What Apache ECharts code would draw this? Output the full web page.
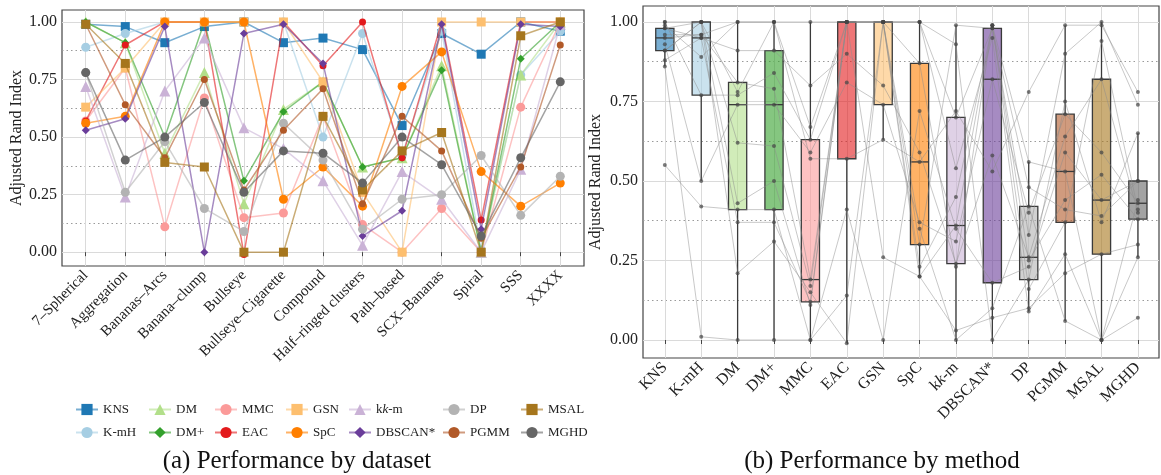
<!DOCTYPE html>
<html>
<head>
<meta charset="utf-8">
<script src="https://cdn.jsdelivr.net/npm/echarts@6/dist/echarts.min.js"></script>
<style>
  html, body { margin: 0; padding: 0; background: #fff; }
  #chart { width: 1161px; height: 475px; }
</style>
</head>
<body>
<div id="chart"></div>
<script>
// datasets on the left x axis
var datasets = ['7–Spherical', 'Aggregation', 'Bananas–Arcs', 'Banana–clump', 'Bullseye',
  'Bullseye–Cigarette', 'Compound', 'Half–ringed clusters', 'Path–based', 'SCX–Bananas',
  'Spiral', 'SSS', 'XXXX'];

// adjusted rand index per method, one value per dataset (same order as above)
var KNS    = [0.99, 0.98, 0.91, 0.98, 1.00, 0.91, 0.93, 0.88, 0.55, 0.95, 0.86, 1.00, 0.96];
var KmH    = [0.89, 0.95, 1.00, 1.00, 1.00, 1.00, 0.50, 0.95, 0.42, 0.96, 0.01, 0.77, 0.96];
var DM     = [1.00, 0.91, 0.43, 0.78, 0.21, 0.62, 0.74, 0.37, 0.41, 0.81, 0.00, 0.77, 1.00];
var DMp    = [1.00, 0.91, 0.50, 1.00, 0.31, 0.61, 0.74, 0.37, 0.41, 0.79, 0.00, 0.84, 1.00];
var MMC    = [0.57, 0.80, 0.11, 0.67, 0.15, 0.17, 0.59, 0.12, 0.00, 0.19, 0.00, 0.63, 1.00];
var EAC    = [0.57, 0.90, 1.00, 1.00, -0.01, 1.00, 0.81, 1.00, 0.41, 1.00, 0.14, 1.00, 1.00];
var GSN    = [0.63, 0.80, 1.00, 1.00, 1.00, 1.00, 0.74, 0.26, 0.00, 1.00, 1.00, 1.00, 1.00];
var SpC    = [0.56, 0.59, 1.00, 1.00, 1.00, 0.23, 0.37, 0.20, 0.72, 0.87, 0.35, 0.20, 0.30];
var KKM    = [0.72, 0.24, 0.70, 0.93, 0.54, 0.45, 0.31, 0.03, 0.35, 0.23, 0.00, 0.36, 0.99];
var DBSCAN = [0.53, 0.58, 0.98, 0.00, 0.95, 0.99, 0.82, 0.07, 0.18, 0.99, 0.10, 0.99, 0.98];
var DP     = [0.78, 0.26, 0.48, 0.19, 0.09, 0.56, 0.40, 0.10, 0.23, 0.25, 0.42, 0.16, 0.33];
var PGMM   = [0.99, 0.64, 0.41, 0.75, 0.27, 0.53, 0.71, 0.21, 0.59, 0.44, 0.06, 0.37, 0.90];
var MSAL   = [0.99, 0.82, 0.39, 0.37, 0.00, 0.00, 0.59, 0.27, 0.44, 0.52, 0.00, 0.94, 1.00];
var MGHD   = [0.78, 0.40, 0.50, 0.65, 0.26, 0.44, 0.43, 0.30, 0.50, 0.38, 0.07, 0.41, 0.74];

var methodNames = ['KNS', 'K-mH', 'DM', 'DM+', 'MMC', 'EAC', 'GSN', 'SpC', 'kk-m', 'DBSCAN*', 'DP', 'PGMM', 'MSAL', 'MGHD'];
var methodValues = [KNS, KmH, DM, DMp, MMC, EAC, GSN, SpC, KKM, DBSCAN, DP, PGMM, MSAL, MGHD];
var methodColors = ['#1f78b4', '#a6cee3', '#b2df8a', '#33a02c', '#fb9a99', '#e31a1c', '#fdbf6f',
  '#ff7f00', '#cab2d6', '#6a3d9a', '#b3b3b3', '#b15928', '#a6761d', '#666666'];
var methodSymbols = ['rect', 'circle', 'triangle', 'diamond', 'circle', 'circle', 'rect',
  'circle', 'triangle', 'diamond', 'circle', 'circle', 'rect', 'circle'];
var symbolSizes = [9, 9, 11, 8, 9, 7, 9, 9, 11, 8, 9, 7, 9, 9];

var majorTicks = [0, 0.25, 0.5, 0.75, 1];
var minorTicks = [0.125, 0.375, 0.625, 0.875];

var FONT = 'Liberation Serif';

function rgba(hex, a) {
  var n = parseInt(hex.slice(1), 16);
  return 'rgba(' + (n >> 16) + ',' + ((n >> 8) & 255) + ',' + (n & 255) + ',' + a + ')';
}

// numpy-style linear quantile
function quantile(sorted, p) {
  var pos = (sorted.length - 1) * p;
  var lo = Math.floor(pos), hi = Math.ceil(pos);
  return sorted[lo] + (sorted[hi] - sorted[lo]) * (pos - lo);
}

function boxStats(vals) {
  var s = vals.slice().sort(function (a, b) { return a - b; });
  var q1 = quantile(s, 0.25), med = quantile(s, 0.5), q3 = quantile(s, 0.75);
  var iqr = q3 - q1;
  var lo = s.filter(function (v) { return v >= q1 - 1.5 * iqr; })[0];
  var inside = s.filter(function (v) { return v <= q3 + 1.5 * iqr; });
  var hi = inside[inside.length - 1];
  return [lo, q1, med, q3, hi];
}

function methodLabel(name) {
  return name === 'kk-m' ? 'k{i|k}-m' : name;
}

var datasetIdx = datasets.map(function (d, i) { return i; });
var methodIdx = methodNames.map(function (d, i) { return i; });

var myChart = echarts.init(document.getElementById('chart'), null, { renderer: 'canvas' });

var series = [];

// (a) one line per method across datasets
methodNames.forEach(function (name, m) {
  series.push({
    name: name,
    type: 'line',
    xAxisIndex: 0,
    yAxisIndex: 0,
    data: methodValues[m].map(function (v, i) { return [i, v]; }),
    symbol: methodSymbols[m],
    symbolSize: symbolSizes[m],
    showSymbol: true,
    itemStyle: { color: methodColors[m], opacity: 1 },
    lineStyle: { color: methodColors[m], width: 1.5, opacity: 0.6 },
    z: 2 + m
  });
});

// (b) boxes
series.push({
  type: 'custom',
  xAxisIndex: 1,
  yAxisIndex: 2,
  silent: true,
  z: 2,
  data: methodValues.map(function (vals, m) { return [m].concat(boxStats(vals)); }),
  renderItem: function (params, api) {
    var j = api.value(0);
    var lo = api.coord([j, api.value(1)]);
    var q1 = api.coord([j, api.value(2)]);
    var md = api.coord([j, api.value(3)]);
    var q3 = api.coord([j, api.value(4)]);
    var hi = api.coord([j, api.value(5)]);
    var half = api.size([1, 0])[0] * 0.25;
    var stroke = { stroke: '#3a3a3a', lineWidth: 1.3 };
    return {
      type: 'group',
      children: [
        { type: 'line', shape: { x1: lo[0], y1: lo[1], x2: q1[0], y2: q1[1] }, style: stroke },
        { type: 'line', shape: { x1: q3[0], y1: q3[1], x2: hi[0], y2: hi[1] }, style: stroke },
        { type: 'rect', shape: { x: q1[0] - half, y: q3[1], width: half * 2, height: q1[1] - q3[1] },
          style: { fill: rgba(methodColors[j], 0.6), stroke: '#3a3a3a', lineWidth: 1.3 } },
        { type: 'line', shape: { x1: md[0] - half, y1: md[1], x2: md[0] + half, y2: md[1] }, style: stroke }
      ]
    };
  }
});

// (b) one grey line per dataset across methods
datasets.forEach(function (d, i) {
  series.push({
    name: 'ds ' + d,
    type: 'line',
    xAxisIndex: 1,
    yAxisIndex: 2,
    silent: true,
    symbol: 'none',
    z: 3,
    data: methodValues.map(function (vals, m) { return [m, vals[i]]; }),
    lineStyle: { color: '#8c8c8c', width: 0.8, opacity: 0.6 }
  });
});

// (b) points
var points = [];
methodValues.forEach(function (vals, m) {
  vals.forEach(function (v) { points.push([m, v]); });
});
series.push({
  type: 'scatter',
  xAxisIndex: 1,
  yAxisIndex: 2,
  silent: true,
  z: 4,
  symbolSize: 4,
  itemStyle: { color: '#444', opacity: 0.7 },
  data: points
});

var legendCols = [[0, 1], [2, 3], [4, 5], [6, 7], [8, 9], [10, 11], [12, 13]];
var legendLefts = [70, 143, 209, 280, 343, 437, 515];
var legends = legendCols.map(function (col, c) {
  return {
    orient: 'vertical',
    left: legendLefts[c],
    top: 398,
    itemWidth: 22,
    itemHeight: 14,
    itemGap: 10,
    selectedMode: false,
    data: col.map(function (m) { return methodNames[m]; }),
    formatter: methodLabel,
    textStyle: {
      fontFamily: FONT, fontSize: 13, color: '#222',
      rich: { i: { fontFamily: FONT, fontSize: 13, fontStyle: 'italic', color: '#222' } }
    }
  };
});

var gridLine = { color: '#dadada', width: 1 };
var dotLine = { color: '#9a9a9a', width: 1, type: [1.5, 3] };

var option = {
  animation: false,
  backgroundColor: '#fff',
  textStyle: { fontFamily: FONT },
  legend: legends,
  grid: [
    { left: 62, top: 10, width: 522, height: 256, show: true, borderColor: '#444', borderWidth: 1.2 },
    { left: 643, top: 6, width: 516, height: 352, show: true, borderColor: '#444', borderWidth: 1.2 }
  ],
  xAxis: [
    {
      type: 'value', gridIndex: 0, min: -0.6, max: 12.6,
      axisLine: { show: false },
      axisTick: { show: true, customValues: datasetIdx, length: 4, lineStyle: { color: '#444' } },
      axisLabel: {
        customValues: datasetIdx, rotate: 45, margin: 7,
        fontFamily: FONT, fontSize: 15, color: '#222',
        formatter: function (v) { return datasets[Math.round(v)]; }
      },
      splitLine: { show: true, lineStyle: gridLine }
    },
    {
      type: 'value', gridIndex: 1, min: -0.6, max: 13.58,
      axisLine: { show: false },
      axisTick: { show: true, customValues: methodIdx, length: 4, lineStyle: { color: '#444' } },
      axisLabel: {
        customValues: methodIdx, rotate: 45, margin: 7,
        fontFamily: FONT, fontSize: 16, color: '#222',
        formatter: function (v) { return methodLabel(methodNames[Math.round(v)]); },
        rich: { i: { fontFamily: FONT, fontSize: 16, fontStyle: 'italic', color: '#222' } }
      },
      splitLine: { show: true, lineStyle: gridLine }
    }
  ],
  yAxis: [
    {
      type: 'value', gridIndex: 0, min: -0.06, max: 1.052,
      name: 'Adjusted Rand Index', nameLocation: 'middle', nameGap: 37, nameRotate: 90,
      nameTextStyle: { fontFamily: FONT, fontSize: 16, color: '#222' },
      axisLine: { show: false },
      axisTick: { show: false, customValues: majorTicks },
      axisLabel: {
        customValues: majorTicks, margin: 5, fontFamily: FONT, fontSize: 16, color: '#222',
        formatter: function (v) { return v.toFixed(2); }
      },
      splitLine: { show: true, lineStyle: gridLine }
    },
    {
      type: 'value', gridIndex: 0, min: -0.06, max: 1.052,
      axisLine: { show: false },
      axisTick: { show: false, customValues: minorTicks },
      axisLabel: { show: false, customValues: minorTicks },
      splitLine: { show: true, lineStyle: dotLine }
    },
    {
      type: 'value', gridIndex: 1, min: -0.0566, max: 1.0503,
      name: 'Adjusted Rand Index', nameLocation: 'middle', nameGap: 39, nameRotate: 90,
      nameTextStyle: { fontFamily: FONT, fontSize: 16, color: '#222' },
      axisLine: { show: false },
      axisTick: { show: false, customValues: majorTicks },
      axisLabel: {
        customValues: majorTicks, margin: 5, fontFamily: FONT, fontSize: 16, color: '#222',
        formatter: function (v) { return v.toFixed(2); }
      },
      splitLine: { show: true, lineStyle: gridLine }
    },
    {
      type: 'value', gridIndex: 1, min: -0.0566, max: 1.0503,
      axisLine: { show: false },
      axisTick: { show: false, customValues: minorTicks },
      axisLabel: { show: false, customValues: minorTicks },
      splitLine: { show: true, lineStyle: dotLine }
    }
  ],
  graphic: [
    { type: 'text', x: 297, y: 461,
      style: { text: '(a) Performance by dataset', font: '25px "Liberation Serif"', fill: '#111',
        align: 'center', verticalAlign: 'middle' } },
    { type: 'text', x: 882, y: 461,
      style: { text: '(b) Performance by method', font: '25px "Liberation Serif"', fill: '#111',
        align: 'center', verticalAlign: 'middle' } }
  ],
  series: series
};

myChart.setOption(option);
</script>
</body>
</html>
